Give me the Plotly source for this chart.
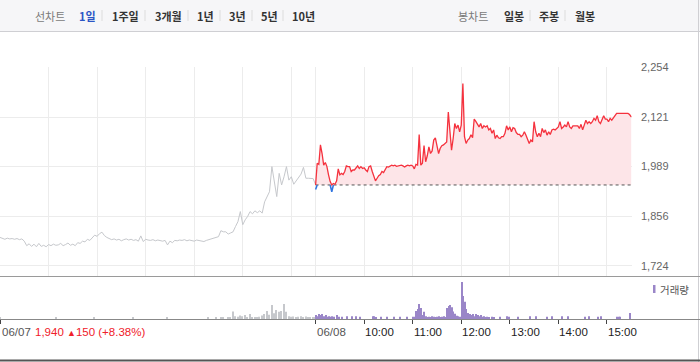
import numpy as np
import plotly.graph_objects as go

BASE = 1940  # previous close (06/07)

# 06/07 intraday price, every 3 minutes from 09:00 to 15:30
p07 = [1800,1797,1795,1798,1796,1797,1795,1797,1794,1796,
       1790,1778,1783,1776,1782,1775,1784,1776,1779,1775,
       1781,1778,1782,1779,1780,1784,1778,1781,1785,1779,
       1782,1778,1786,1784,1790,1788,1795,1792,1800,1806,
       1803,1810,1814,1805,1800,1797,1794,1796,1793,1795,
       1791,1794,1796,1793,1795,1792,1794,1790,1804,1789,
       1795,1793,1792,1794,1791,1793,1792,1790,1792,1780,
       1790,1786,1792,1791,1793,1792,1794,1791,1793,1792,
       1790,1793,1791,1790,1789,1792,1794,1795,1798,1798,
       1802,1818,1815,1815,1809,1812,1815,1829,1842,1869,
       1834,1847,1856,1869,1863,1871,1866,1871,1865,1895,
       1909,1922,1989,1945,1909,1971,1940,1962,1989,1953,
       1962,1942,1951,1958,1969,1987,1958,1958,1958,1957,
       1940]

# 06/07 volume, every 3 minutes
v07 = [3,0,0,0,0,0,0,0,0,0,
       0,0,0,0,0,0,0,0,0,0,
       0,0,0,3,0,0,0,0,0,0,
       0,0,0,0,0,0,0,0,0,3,
       0,0,0,0,0,0,0,0,0,0,
       0,0,0,0,0,3,0,0,0,0,
       0,0,0,0,0,0,0,0,0,3,
       0,0,0,0,0,0,0,0,0,0,
       0,0,0,0,0,0,3,0,0,4,
       0,3,4,0,5,4,21,8,6,10,
       8,11,4,14,5,3,3,6,10,14,
       22,12,39,16,25,20,22,42,20,8,
       6,7,5,6,8,5,7,4,3,4,
       3]

# 06/08 intraday price, every 2 minutes from 09:00 to 15:30
p08 = [1928,1998,1995,2047,2024,1993,2000,1989,1967,1949,
       1922,1944,1942,1951,1983,1967,1971,1968,1976,1991,
       1989,1989,1976,1980,1980,1986,1991,1984,1989,1984,
       1986,1980,1976,1989,1991,1976,1962,1951,1958,1965,
       1968,1976,1973,1983,1989,1988,1991,1993,1991,1993,
       1990,1991,1992,1993,1991,1988,1991,1993,1991,1993,
       1991,1983,1995,1993,2075,1993,1998,2045,2002,2018,
       2042,2024,2031,2060,2066,2047,2024,2038,2045,2047,
       2051,2055,2135,2078,2033,2064,2104,2091,2100,2082,
       2100,2211,2069,2051,2060,2064,2074,2066,2116,2110,
       2104,2095,2104,2091,2098,2095,2098,2087,2091,2078,
       2087,2064,2073,2066,2064,2069,2069,2078,2098,2087,
       2095,2082,2093,2091,2080,2075,2075,2069,2073,2082,
       2073,2064,2051,2060,2055,2109,2082,2069,2078,2069,
       2091,2080,2087,2073,2082,2075,2087,2089,2087,2091,
       2095,2109,2091,2095,2100,2095,2109,2095,2091,2098,
       2098,2100,2098,2091,2102,2087,2098,2113,2104,2109,
       2104,2109,2118,2113,2125,2109,2104,2113,2125,2116,
       2116,2109,2118,2113,2119,2128,2131,2131,2131,2131,
       2131,2131,2131,2131,2128,2122]

# 06/08 volume, every 2 minutes
v08 = [11,8,14,11,14,8,11,6,8,6,
       8,6,0,11,6,0,6,0,0,8,
       0,0,8,0,0,8,0,6,0,0,
       0,0,0,0,0,8,8,5,0,0,
       6,0,0,0,6,0,0,0,6,0,
       0,0,6,0,0,0,6,0,0,0,
       6,6,22,28,42,31,11,20,8,3,
       6,3,8,6,3,6,8,3,6,8,
       3,31,36,39,33,21,15,9,8,6,
       103,64,48,28,17,14,11,14,8,14,
       11,8,11,6,8,3,6,3,0,6,
       3,0,0,0,6,0,0,0,8,6,
       0,0,0,0,0,6,0,0,0,0,
       0,0,8,0,0,0,8,0,0,0,
       0,0,0,6,0,0,8,0,0,0,
       0,0,8,0,0,0,8,0,0,0,
       0,0,0,0,0,0,6,0,0,8,
       0,0,0,0,6,0,8,0,0,0,
       0,0,0,0,0,0,6,6,6,0,
       0,0,0,0,17,0]

# time axis in trading minutes (06/07 09:00 = 0, 06/08 09:00 = 390)
t07 = [3 * i for i in range(len(p07))]
t08 = [390 + 2 * i for i in range(len(p08))]

ytick_vals = [1724, 1856.5, 1989, 2121.5, 2254]
ytick_text = ["1,724", "1,856", "1,989", "2,121", "2,254"]
grid_minutes = [60, 120, 180, 240, 300, 360, 390, 450, 510, 570, 630, 690, 750]
label_minutes = [390, 450, 510, 570, 630, 690, 750]
label_text = ["06/08", "10:00", "11:00", "12:00", "13:00", "14:00", "15:00"]

W, H = 700, 362
L, R, T, B = 0, 68, 67, 43
PW, PH = W - L - R, H - T - B
XMAX = 781.0


def px(x):
    return (x - L) / PW


def py(y):
    return (H - B - y) / PH


VOL_TOP = py(276)

p08a = np.array(p08, dtype=float)
red_y = np.maximum(p08a, BASE)
blue_y = []
n = len(p08)
for i in range(n):
    near = p08[i] < BASE or (i > 0 and p08[i - 1] < BASE) or (i < n - 1 and p08[i + 1] < BASE)
    blue_y.append(min(p08[i], BASE) if near else None)

fig = go.Figure()
fig.add_trace(go.Scatter(x=t07, y=p07, mode="lines", line=dict(color="#c6c8cc", width=1),
                         xaxis="x", yaxis="y", hoverinfo="skip"))
fig.add_trace(go.Scatter(x=t08, y=[BASE] * n, mode="lines", line=dict(width=0, color="rgba(0,0,0,0)"),
                         xaxis="x", yaxis="y", hoverinfo="skip"))
fig.add_trace(go.Scatter(x=t08, y=p08, mode="lines", line=dict(width=0, color="rgba(0,0,0,0)"),
                         fill="tonexty", fillcolor="#fde5e8", xaxis="x", yaxis="y", hoverinfo="skip"))
fig.add_trace(go.Scatter(x=[t08[0], t08[-1]], y=[BASE, BASE], mode="lines",
                         line=dict(color="#555555", width=1, dash="dot"),
                         xaxis="x", yaxis="y", hoverinfo="skip"))
fig.add_trace(go.Scatter(x=t08, y=red_y, mode="lines", line=dict(color="#f5323e", width=1.3),
                         xaxis="x", yaxis="y", hoverinfo="skip"))
fig.add_trace(go.Scatter(x=t08, y=blue_y, mode="lines", line=dict(color="#2f74e0", width=1.5),
                         connectgaps=False, xaxis="x", yaxis="y", hoverinfo="skip"))
fig.add_trace(go.Bar(x=t07, y=v07, width=1.25, marker=dict(color="#c6c8cc", line=dict(width=0)),
                     xaxis="x2", yaxis="y2", hoverinfo="skip"))
fig.add_trace(go.Bar(x=t08, y=v08, width=1.25, marker=dict(color="#9a86c8", line=dict(width=0)),
                     xaxis="x2", yaxis="y2", hoverinfo="skip"))

shapes = []
# top toolbar
shapes.append(dict(type="rect", xref="paper", yref="paper", x0=px(0), x1=px(700), y0=py(31), y1=py(0),
                   fillcolor="#f6f6f8", line=dict(width=0), layer="below"))
shapes.append(dict(type="line", xref="paper", yref="paper", x0=px(0), x1=px(700), y0=py(31.5), y1=py(31.5),
                   line=dict(color="#cfcfd3", width=1)))
for sx in [102, 145, 188, 220, 252, 283, 530, 565]:
    shapes.append(dict(type="line", xref="paper", yref="paper", x0=px(sx), x1=px(sx), y0=py(10), y1=py(21),
                       line=dict(color="#dcdcdc", width=1)))
# right border
shapes.append(dict(type="line", xref="paper", yref="paper", x0=px(698.5), x1=px(698.5), y0=py(0), y1=py(362),
                   line=dict(color="#cfcfd3", width=1)))
# panel separator, baseline, bottom line
shapes.append(dict(type="line", xref="paper", yref="paper", x0=px(0), x1=px(700), y0=py(276.5), y1=py(276.5),
                   line=dict(color="#9a9a9a", width=1)))
shapes.append(dict(type="line", xref="paper", yref="paper", x0=px(0), x1=px(700), y0=py(319.5), y1=py(319.5),
                   line=dict(color="#888888", width=1)))
shapes.append(dict(type="line", xref="paper", yref="paper", x0=px(0), x1=px(700), y0=py(360.5), y1=py(360.5),
                   line=dict(color="#555555", width=2)))
# legend swatch
shapes.append(dict(type="rect", xref="paper", yref="paper", x0=px(653), x1=px(655.5), y0=py(293), y1=py(285),
                   fillcolor="#9a86c8", line=dict(width=0)))

KR = "Noto Sans CJK KR"
NUM = "Liberation Sans, Arial"
ann = []


def add_text(x, y, text, color, size=11, family=KR):
    ann.append(dict(xref="paper", yref="paper", x=px(x), y=py(y), text=text, showarrow=False,
                    xanchor="left", yanchor="middle", font=dict(family=family, size=size, color=color)))


add_text(33, 15.5, "선차트", "#7a7a7a")
add_text(77, 15.5, "<b>1일</b>", "#2b55c5")
for xx, tt in [(110, "1주일"), (153, "3개월"), (195, "1년"), (227, "3년"), (259, "5년"), (290, "10년")]:
    add_text(xx, 15.5, "<b>" + tt + "</b>", "#333333")
add_text(456, 15.5, "봉차트", "#7a7a7a")
for xx, tt in [(502, "일봉"), (537, "주봉"), (573, "월봉")]:
    add_text(xx, 15.5, "<b>" + tt + "</b>", "#333333")
add_text(658, 289, "거래량", "#555555", size=10.5)

add_text(0, 332, "06/07", "#555555", size=11.5, family=NUM)
add_text(33, 332, "1,940 <span style='font-size:9px'>▲</span>150 (+8.38%)", "#f0202a", size=11.5, family=NUM)
for m, lab in zip(label_minutes, label_text):
    x_pix = m / XMAX * PW
    add_text(x_pix - 1, 332, lab, "#555555" if "/" in lab else "#222222", size=11.5, family=NUM)

fig.update_layout(
    width=W, height=H, autosize=False,
    margin=dict(l=L, r=R, t=T, b=B, pad=0),
    paper_bgcolor="white", plot_bgcolor="white",
    showlegend=False, hovermode=False,
    xaxis=dict(domain=[0, 1], range=[0, XMAX], anchor="y", tickvals=grid_minutes, showticklabels=False,
               ticks="", showgrid=True, gridcolor="#ececec", gridwidth=1, zeroline=False, showline=False,
               fixedrange=True),
    xaxis2=dict(domain=[0, 1], range=[0, XMAX], anchor="y2", matches="x", tickvals=[0] + label_minutes,
                showticklabels=False, ticks="outside", ticklen=4, tickcolor="#444444", tickwidth=1,
                showgrid=False, zeroline=False, showline=False, fixedrange=True),
    yaxis=dict(domain=[VOL_TOP, 1], range=[1697, 2255], anchor="x", side="right", tickvals=ytick_vals,
               ticktext=ytick_text, tickfont=dict(family=NUM, size=11, color="#666666"), ticks="",
               showgrid=True, gridcolor="#ececec", gridwidth=1, zeroline=False, showline=False,
               ticklabelstandoff=8, automargin=False, fixedrange=True),
    yaxis2=dict(domain=[0, VOL_TOP], range=[0, 120], anchor="x2", showticklabels=False, ticks="",
                showgrid=False, zeroline=False, showline=False, fixedrange=True),
    shapes=shapes, annotations=ann,
)

fig.write_html("out.html", config={"displayModeBar": False},
               post_script="document.body.style.margin='0';document.body.style.overflow='hidden';")
